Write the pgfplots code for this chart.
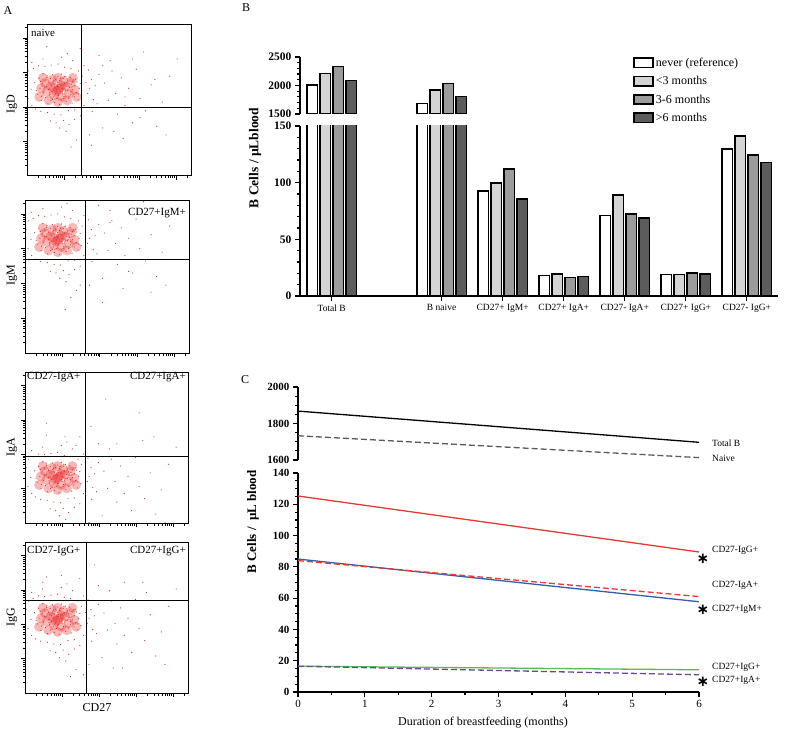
\documentclass[border=0pt]{standalone}
\usepackage{fontspec}
\setmainfont{Liberation Serif}
\newfontfamily\djv{DejaVu Sans}
\usepackage{pgfplots}
\usepackage{pgfplotstable}
\pgfplotsset{compat=1.18}

\definecolor{dotred}{RGB}{232,40,40}
\definecolor{gLight}{RGB}{212,212,212}
\definecolor{gMid}{RGB}{155,155,155}
\definecolor{gDark}{RGB}{92,92,92}
\definecolor{cred}{RGB}{229,57,53}
\definecolor{cblue}{RGB}{52,94,168}
\definecolor{cgreen}{RGB}{92,184,92}
\definecolor{cpurple}{RGB}{104,72,152}
\definecolor{cgray}{RGB}{90,90,90}

% soft core of the cell cloud (offsets in decades from the cloud centre)
\pgfplotstableread{
dx dy
0 0
0.2 0.1
-0.2 0.1
0.1 -0.2
-0.1 -0.15
0.3 -0.1
-0.3 -0.05
0.15 0.25
-0.15 0.3
0.35 0.2
-0.35 0.2
0.25 -0.3
-0.25 -0.3
0.45 0.0
-0.45 0.05
0 0.35
0 -0.35
0.5 -0.2
-0.5 -0.2
0.4 0.35
-0.4 0.35
0.05 0.05
-0.05 -0.05
0.1 0.12
-0.12 0.08
}\scatblob

% individual events
\pgfplotstableread{
dx dy
-0.62 0.21
-0.55 -0.12
-0.51 0.34
-0.48 0.05
-0.45 -0.31
-0.42 0.18
-0.40 0.47
-0.38 -0.08
-0.35 0.29
-0.33 -0.22
-0.31 0.10
-0.29 0.41
-0.27 -0.40
-0.25 0.02
-0.24 0.22
-0.22 -0.14
-0.20 0.33
-0.19 -0.30
-0.17 0.12
-0.16 -0.05
-0.14 0.44
-0.13 0.25
-0.12 -0.20
-0.10 0.06
-0.09 -0.36
-0.08 0.17
-0.06 0.31
-0.05 -0.09
-0.04 0.00
-0.03 -0.25
-0.01 0.21
0.00 0.38
0.01 -0.15
0.02 0.09
0.04 -0.42
0.05 0.27
0.06 -0.03
0.08 0.14
0.09 -0.28
0.10 0.46
0.12 -0.11
0.13 0.05
0.15 0.33
0.16 -0.19
0.18 0.20
0.19 -0.06
0.21 0.40
0.22 -0.33
0.24 0.11
0.26 -0.02
0.27 0.26
0.29 -0.24
0.31 0.07
0.33 0.36
0.34 -0.14
0.36 0.17
0.38 -0.38
0.40 0.02
0.42 0.29
0.44 -0.20
0.46 0.12
0.49 -0.08
0.51 0.23
0.54 -0.29
0.57 0.05
0.60 0.19
0.63 -0.16
-0.58 -0.02
-0.44 -0.18
-0.30 0.36
-0.21 0.15
-0.11 0.28
0.03 0.16
0.14 -0.25
0.25 0.32
0.35 -0.05
0.47 0.31
0.55 -0.12
-0.36 0.09
-0.07 -0.12
0.07 0.34
0.20 0.00
0.30 0.18
-0.23 -0.08
-0.02 0.10
0.11 -0.04
0.39 0.24
-0.47 0.25
-0.15 -0.27
0.17 0.39
-0.85 0.30
-0.80 -0.25
-0.78 0.55
-0.72 0.02
-0.70 -0.45
-0.66 0.62
-0.60 -0.55
-0.52 0.70
-0.46 -0.62
-0.35 0.68
-0.28 -0.65
-0.18 0.72
-0.10 -0.70
0.00 0.75
0.08 -0.72
0.18 0.66
0.28 -0.60
0.35 0.62
0.45 -0.58
0.55 0.55
0.65 0.40
0.70 -0.45
0.75 0.22
0.80 -0.10
0.85 0.05
0.90 0.30
0.95 -0.28
1.00 0.12
1.05 -0.40
1.10 0.45
-0.05 -0.95
0.15 -0.88
0.30 -1.00
0.45 -0.85
0.05 -1.10
0.22 -1.20
-0.20 -0.90
0.60 -0.75
-0.40 0.90
0.10 0.95
0.40 0.85
0.70 0.70
-0.70 0.80
0.25 1.05
0.82 0.58
0.92 -0.62
1.25 0.20
1.35 -0.30
1.45 0.55
1.55 -0.10
1.60 -0.70
1.70 0.35
1.80 -0.45
1.90 0.05
2.00 -0.95
2.10 0.60
2.20 -0.25
2.35 -0.60
2.50 0.15
2.65 -1.05
2.80 -0.35
3.00 0.40
1.20 -1.10
0.85 -1.30
0.50 -1.45
1.10 1.00
1.40 0.85
0.60 1.20
-0.30 1.25
2.30 1.10
2.90 -1.30
1.75 -1.40
0.35 -1.65
3.20 0.90
}\scatdots

\pgfplotstableread{
dx dy
1.8 -0.2
2.2 -0.8
1.5 -1.2
2.6 0.3
0.9 -1.6
1.2 0.7
2.0 0.9
}\extraA
\pgfplotstableread{
dx dy
0.6 -1.3
1.2 -1.8
0.2 -2.0
1.9 -0.9
2.5 -1.5
1.4 0.5
}\extraB
\pgfplotstableread{
dx dy
0.2 1.2
0.9 1.5
1.6 1.0
-0.3 1.6
2.2 1.9
1.3 2.3
0.5 0.95
2.6 1.2
}\extraC
\pgfplotstableread{
dx dy
0.1 1.3
1.0 1.6
1.8 1.1
-0.4 1.1
2.4 0.8
1.5 -1.4
0.7 -1.6
}\extraD

\pgfplotsset{
  scatframe/.style={scale only axis, anchor=south west,
    xmin=0, xmax=4.4, ymin=0, ymax=4.4,
    xtick={1,2,3,4}, ytick={1,2,3,4},
    minor xtick={0.301,0.477,0.602,0.699,0.778,0.845,0.903,0.954,1.301,1.477,1.602,1.699,1.778,1.845,1.903,1.954,2.301,2.477,2.602,2.699,2.778,2.845,2.903,2.954,3.301,3.477,3.602,3.699,3.778,3.845,3.903,3.954,4.301},
    minor ytick={0.301,0.477,0.602,0.699,0.778,0.845,0.903,0.954,1.301,1.477,1.602,1.699,1.778,1.845,1.903,1.954,2.301,2.477,2.602,2.699,2.778,2.845,2.903,2.954,3.301,3.477,3.602,3.699,3.778,3.845,3.903,3.954,4.301},
    xticklabel=\empty, yticklabel=\empty,
    tick align=outside, xtick pos=bottom, ytick pos=left,
    major tick length=4pt, minor tick length=2.5pt,
    every tick/.style={black, line width=0.5pt},
    axis line style={line width=1pt}},
  scatdata/.style={scale only axis, anchor=south west, hide axis},
  blobstyle/.style={only marks, mark=*, mark size=5pt, color=dotred, fill opacity=0.33, draw opacity=0},
  dotstyle/.style={only marks, mark=*, mark size=0.6pt, color=dotred, draw opacity=0},
  divider/.style={black, line width=1pt, mark=none},
  barax/.style={scale only axis, anchor=south west, width=478pt,
    xmin=-0.52, xmax=7.31, ybar=2.5pt, bar width=10.5pt,
    axis line style={line width=1.8pt, -},
    tick align=outside, major tick length=5pt, minor tick length=3pt,
    every tick/.style={black, line width=1.2pt},
    /pgf/number format/assume math mode=true,
    /pgf/number format/1000 sep={},
    yticklabel style={font=\bfseries\fontsize{11.5}{12}\selectfont}},
  lineax/.style={scale only axis, anchor=south west, width=401pt,
    xmin=0, xmax=6,
    axis line style={line width=1.8pt, -},
    tick align=outside, major tick length=5pt, minor tick length=3pt,
    every tick/.style={black, line width=1.2pt},
    /pgf/number format/assume math mode=true,
    /pgf/number format/1000 sep={},
    yticklabel style={font=\bfseries\fontsize{11}{12}\selectfont},
    xticklabel style={font=\fontsize{11}{12}\selectfont}},
}

\begin{document}
\begin{tikzpicture}
\useasboundingbox (0,0) rectangle (800pt,732pt);

% ---------------- Panel A ----------------
% 1: IgD
\begin{axis}[scatdata, at={(27pt,556pt)}, width=164pt, height=152pt,
  xmin=-0.83, xmax=3.57, ymin=-2.49, ymax=1.91]
  \addplot[blobstyle] table[x=dx,y=dy] {\scatblob};
  \addplot[dotstyle] table[x=dx,y=dy] {\scatdots};
  \addplot[dotstyle] table[x=dx,y=dy] {\extraA};
\end{axis}
\begin{axis}[scatframe, at={(27pt,556pt)}, width=164pt, height=152pt]
  \addplot[divider] coordinates {(1.47,0) (1.47,4.4)};
  \addplot[divider] coordinates {(0,1.97) (4.4,1.97)};
\end{axis}
% 2: IgM
\begin{axis}[scatdata, at={(25pt,379pt)}, width=164pt, height=153pt,
  xmin=-0.88, xmax=3.52, ymin=-3.25, ymax=1.15]
  \addplot[blobstyle] table[x=dx,y=dy] {\scatblob};
  \addplot[dotstyle] table[x=dx,y=dy] {\scatdots};
  \addplot[dotstyle] table[x=dx,y=dy] {\extraB};
\end{axis}
\begin{axis}[scatframe, at={(25pt,379pt)}, width=164pt, height=153pt]
  \addplot[divider] coordinates {(1.61,0) (1.61,4.4)};
  \addplot[divider] coordinates {(0,2.68) (4.4,2.68)};
\end{axis}
% 3: IgA
\begin{axis}[scatdata, at={(25pt,209pt)}, width=163pt, height=151pt,
  xmin=-0.88, xmax=3.52, ymin=-1.31, ymax=3.09]
  \addplot[blobstyle] table[x=dx,y=dy] {\scatblob};
  \addplot[dotstyle] table[x=dx,y=dy] {\scatdots};
  \addplot[dotstyle] table[x=dx,y=dy] {\extraC};
\end{axis}
\begin{axis}[scatframe, at={(25pt,209pt)}, width=163pt, height=151pt]
  \addplot[divider] coordinates {(1.62,0) (1.62,4.4)};
  \addplot[divider] coordinates {(0,1.95) (4.4,1.95)};
\end{axis}
% 4: IgG
\begin{axis}[scatdata, at={(25pt,39pt)}, width=163pt, height=151pt,
  xmin=-0.88, xmax=3.52, ymin=-2.13, ymax=2.27]
  \addplot[blobstyle] table[x=dx,y=dy] {\scatblob};
  \addplot[dotstyle] table[x=dx,y=dy] {\scatdots};
  \addplot[dotstyle] table[x=dx,y=dy] {\extraD};
\end{axis}
\begin{axis}[scatframe, at={(25pt,39pt)}, width=163pt, height=151pt]
  \addplot[divider] coordinates {(1.65,0) (1.65,4.4)};
  \addplot[divider] coordinates {(0,2.71) (4.4,2.71)};
\end{axis}

\node[font=\fontsize{12}{12}\selectfont] at (8pt,721pt) {A};
\node[font=\fontsize{12}{12}\selectfont, rotate=90] at (12pt,628pt) {IgD};
\node[font=\fontsize{12}{12}\selectfont, rotate=90] at (12pt,457pt) {IgM};
\node[font=\fontsize{12}{12}\selectfont, rotate=90] at (12pt,285pt) {IgA};
\node[font=\fontsize{12}{12}\selectfont, rotate=90] at (12pt,115pt) {IgG};
\node[font=\fontsize{12}{12}\selectfont] at (97pt,24pt) {CD27};
\node[font=\fontsize{11}{11}\selectfont, anchor=west, inner sep=1pt] at (30pt,699pt) {naive};
\node[font=\fontsize{11}{11}\selectfont, anchor=east, inner sep=1pt] at (187pt,519pt) {CD27+IgM+};
\node[font=\fontsize{11}{11}\selectfont, anchor=west, inner sep=1pt] at (26pt,355pt) {CD27-IgA+};
\node[font=\fontsize{11}{11}\selectfont, anchor=east, inner sep=1pt] at (187pt,355pt) {CD27+IgA+};
\node[font=\fontsize{11}{11}\selectfont, anchor=west, inner sep=1pt] at (26pt,181pt) {CD27-IgG+};
\node[font=\fontsize{11}{11}\selectfont, anchor=east, inner sep=1pt] at (187pt,181pt) {CD27+IgG+};

% ---------------- Panel B ----------------
\begin{axis}[barax, at={(300pt,436pt)}, height=170pt, ymin=0, ymax=150,
  axis x line*=bottom, axis y line*=left,
  xtick={0,1.8,2.8,3.8,4.8,5.8,6.8},
  xticklabels={Total B, B naive, CD27+ IgM+, CD27+ IgA+, CD27- IgA+, CD27+ IgG+, CD27- IgG+},
  xticklabel style={font=\fontsize{9.5}{10}\selectfont},
  ytick={0,50,100,150}, minor y tick num=4]
  \addplot[draw=black, fill=white, line width=1.5pt] coordinates {(0,2009) (1.8,1687) (2.8,92.5) (3.8,18) (4.8,71) (5.8,19) (6.8,129.5)};
  \addplot[draw=black, fill=gLight, line width=1.5pt] coordinates {(0,2214) (1.8,1921) (2.8,99.5) (3.8,19.5) (4.8,89) (5.8,19) (6.8,141)};
  \addplot[draw=black, fill=gMid, line width=1.5pt] coordinates {(0,2330) (1.8,2038) (2.8,112) (3.8,16.3) (4.8,72.5) (5.8,20.5) (6.8,124.5)};
  \addplot[draw=black, fill=gDark, line width=1.5pt] coordinates {(0,2084) (1.8,1804) (2.8,85.5) (3.8,17) (4.8,69) (5.8,19.3) (6.8,118)};
\end{axis}
\begin{axis}[barax, at={(300pt,618pt)}, height=57pt, ymin=1500, ymax=2500,
  axis y line*=left, axis x line=none,
  ytick={1500,2000,2500}, minor y tick num=4,
  legend style={at={(axis description cs:0.697,1.02)}, anchor=north west, draw=none, fill=none,
    font=\fontsize{12}{14}\selectfont, row sep=4.5pt, inner sep=0pt},
  legend cell align=left,
  legend image code/.code={\draw[#1, line width=1.6pt] (0pt,-4.5pt) rectangle (19pt,5pt);}]
  \addplot[draw=black, fill=white, line width=1.5pt] coordinates {(0,2009) (1.8,1687)};
  \addplot[draw=black, fill=gLight, line width=1.5pt] coordinates {(0,2214) (1.8,1921)};
  \addplot[draw=black, fill=gMid, line width=1.5pt] coordinates {(0,2330) (1.8,2038)};
  \addplot[draw=black, fill=gDark, line width=1.5pt] coordinates {(0,2084) (1.8,1804)};
  \legend{never (reference), <3 months, 3-6 months, >6 months}
\end{axis}
\node[font=\fontsize{12}{12}\selectfont] at (246pt,724pt) {B};
\node[font=\bfseries\fontsize{13.5}{14}\selectfont, rotate=90] at (255pt,574pt) {B Cells / µLblood};

% ---------------- Panel C ----------------
\begin{axis}[lineax, at={(298pt,272pt)}, height=73pt, ymin=1600, ymax=2000,
  axis y line*=left, axis x line=none,
  ytick={1600,1800,2000}, minor y tick num=3]
  \addplot[black, line width=1.3pt, mark=none] coordinates {(0,1868) (6,1697)};
  \addplot[cgray, line width=1.3pt, dash pattern=on 6pt off 3pt, mark=none] coordinates {(0,1733) (6,1613)};
\end{axis}
\begin{axis}[lineax, at={(298pt,40pt)}, height=219pt, ymin=0, ymax=140,
  axis x line*=bottom, axis y line*=left,
  xtick={0,1,2,3,4,5,6}, minor x tick num=1,
  ytick={0,20,40,60,80,100,120,140}, minor y tick num=3]
  \addplot[cred, line width=1.3pt, mark=none] coordinates {(0,125.3) (6,89.5)};
  \addplot[cblue, line width=1.3pt, mark=none] coordinates {(0,85) (6,57.7)};
  \addplot[cred, line width=1.3pt, dash pattern=on 6pt off 3pt, mark=none] coordinates {(0,84) (6,61)};
  \addplot[cgreen, line width=1.3pt, mark=none] coordinates {(0,16.5) (6,14.2)};
  \addplot[cpurple, line width=1.3pt, dash pattern=on 6pt off 3pt, mark=none] coordinates {(0,16.5) (6,11)};
\end{axis}
\node[font=\fontsize{12}{12}\selectfont] at (245pt,352pt) {C};
\node[font=\bfseries\fontsize{13}{14}\selectfont, rotate=90] at (253pt,210pt) {B Cells /\ \ µL blood};
\node[font=\fontsize{12}{12}\selectfont] at (483pt,9pt) {Duration of breastfeeding (months)};
\begin{scope}[every node/.style={font=\fontsize{9.5}{10}\selectfont, anchor=west, inner sep=0pt}]
\node at (712pt,289pt) {Total B};
\node at (712pt,274pt) {Naive};
\node at (712pt,182pt) {CD27-IgG+};
\node at (712pt,147pt) {CD27-IgA+};
\node at (712pt,123pt) {CD27+IgM+};
\node at (712pt,65pt) {CD27+IgG+};
\node at (712pt,52pt) {CD27+IgA+};
\end{scope}
\begin{scope}[every node/.style={font=\djv\bfseries\fontsize{15}{15}\selectfont, inner sep=0pt}]
\node at (703pt,173pt) {∗};
\node at (703pt,122pt) {∗};
\node at (703pt,50pt) {∗};
\end{scope}
\end{tikzpicture}
\end{document}
